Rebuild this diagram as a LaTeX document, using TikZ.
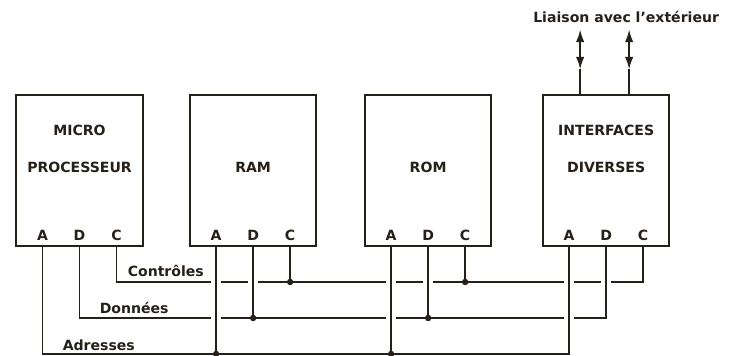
\documentclass[tikz,border=0pt]{standalone}
\usepackage{fontspec}
\setmainfont{DejaVu Sans}
\usetikzlibrary{arrows.meta,positioning,calc}
\definecolor{inkbrown}{RGB}{38,32,26}
\tikzset{
  base/.style={font=\bfseries\fontsize{10}{26}\selectfont, text=inkbrown, inner sep=0pt},
  box/.style={rectangle, draw=inkbrown, line width=1.4pt, minimum width=3.15cm, minimum height=3.75cm, inner sep=0pt},
  title/.style={base, align=center},
  pinlbl/.style={base, anchor=base},
  buslbl/.style={base, anchor=base west},
  bus/.style={draw=inkbrown, line width=1.3pt},
  gap/.style={fill=white},
  dot/.style={fill=inkbrown},
  ext/.style={bus, {Latex[length=9pt,width=6pt]}-{Latex[length=9pt,width=6pt]}},
}

\begin{document}
\begin{tikzpicture}[x=0.025cm, y=-0.025cm]
  \fill[white] (0,0) rectangle (729,355);
  \useasboundingbox (0,0) rectangle (729,355);
  % the four blocks
  \node[box] (cpu) at (79.5,170.5) {};
  \node[box, right=1.14cm of cpu] (ram) {};
  \node[box, right=1.175cm of ram] (rom) {};
  \node[box, right=1.25cm of rom] (io) {};
  \node[title] (cpu-t) at ($(cpu)+(0,-21.5)$) {MICRO\\PROCESSEUR};
  \node[title] (ram-t) at ($(ram)+(0,-3.5)$) {RAM};
  \node[title] (rom-t) at ($(rom)+(0,-3.5)$) {ROM};
  \node[title] (io-t) at ($(io)+(0,-21.5)$) {INTERFACES\\DIVERSES};
  \foreach \b in {cpu,ram,rom,io}
    \foreach \p/\dx in {A/-37,D/0,C/37}
      \node[pinlbl] (\b-\p) at ($(\b.south)+(\dx,-6)$) {\p};
  % buses
  \coordinate (ctl) at (0,282);
  \coordinate (dat) at (0,318);
  \coordinate (adr) at (0,354);
  \draw[bus] (cpu-C |- cpu.south) -- (cpu-C |- ctl) -- (io-C |- ctl) -- (io-C |- io.south);
  \draw[bus] (cpu-D |- cpu.south) -- (cpu-D |- dat) -- (io-D |- dat) -- (io-D |- io.south);
  \draw[bus] (cpu-A |- cpu.south) -- (cpu-A |- adr) -- (io-A |- adr) -- (io-A |- io.south);
  \foreach \v/\h in {ram-A/ctl,ram-D/ctl,rom-A/ctl,rom-D/ctl,io-A/ctl,io-D/ctl,ram-A/dat,rom-A/dat,io-A/dat}
    \fill[gap] ($(\v |- \h)+(-5,-3)$) rectangle ++(10,6);
  \foreach \b in {ram,rom}
    \foreach \p/\h in {A/adr,D/dat,C/ctl}{
      \draw[bus] (\b-\p |- \b.south) -- (\b-\p |- \h);
      \fill[dot] (\b-\p |- \h) circle (2.3pt);
    }
  \draw[bus] (io-A |- io.south) -- (io-A |- adr);
  \draw[bus] (io-D |- io.south) -- (io-D |- dat);
  \node[buslbl] (ctl-l) at ($(cpu-C |- ctl)+(11,-6)$) {Contrôles};
  \node[buslbl] (dat-l) at ($(cpu-D |- dat)+(20,-5)$) {Données};
  \node[buslbl] (adr-l) at ($(cpu-A |- adr)+(20,-4)$) {Adresses};
  % outside links
  \foreach \dx/\n in {-26/1,23/2}{
    \coordinate (tip\n) at ($(io.north)+(\dx,-65)$);
    \coordinate (mid\n) at ($(io.north)+(\dx,-25)$);
    \draw[ext] (tip\n) -- (mid\n);
    \draw[bus] (mid\n) -- (mid\n |- io.north);
  }
  \node[base, anchor=base] (ext-l) at ($(io.north)+(20,-72)$) {Liaison avec l'extérieur};
\end{tikzpicture}
\end{document}
